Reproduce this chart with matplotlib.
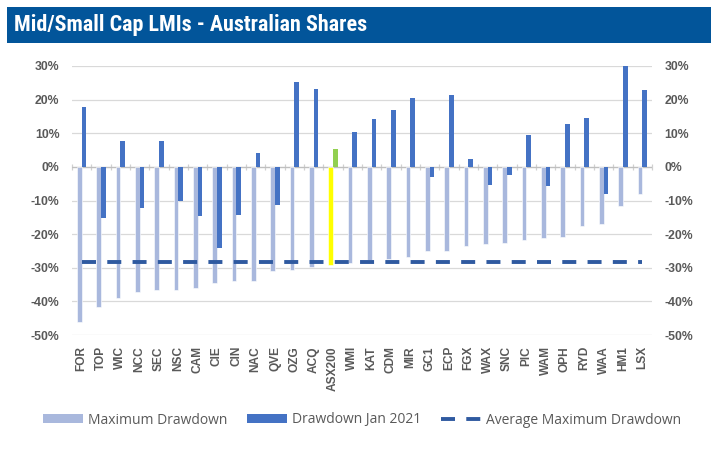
import matplotlib
matplotlib.use("Agg")
import matplotlib.pyplot as plt
import numpy as np
from matplotlib.patches import Rectangle, Patch
from matplotlib.lines import Line2D
from matplotlib.ticker import FuncFormatter, FixedLocator
from matplotlib import font_manager

# ---------------- data ----------------
title = "Mid/Small Cap LMIs - Australian Shares"
categories = ["FOR", "TOP", "WIC", "NCC", "SEC", "NSC", "CAM", "CIE", "CIN", "NAC",
              "QVE", "OZG", "ACQ", "ASX200", "WMI", "KAT", "CDM", "MIR", "GC1", "ECP",
              "FGX", "WAX", "SNC", "PIC", "WAM", "OPH", "RYD", "WAA", "HM1", "LSX"]
max_drawdown = [-46.1, -41.7, -39.0, -37.1, -36.7, -36.6, -35.9, -34.4, -33.9, -33.8,
                -31.0, -30.6, -29.8, -29.2, -28.5, -27.6, -27.4, -26.8, -25.0, -24.9,
                -23.4, -22.8, -22.6, -21.6, -21.3, -20.8, -17.7, -17.1, -11.5, -8.0]
drawdown_jan2021 = [17.9, -15.1, 7.7, -12.1, 7.6, -10.1, -14.6, -24.0, -14.3, 4.1,
                    -11.2, 25.1, 23.1, 5.3, 10.4, 14.1, 17.0, 20.4, -3.1, 21.3,
                    2.2, -5.4, -2.3, 9.4, -5.7, 12.7, 14.5, -8.0, 30.0, 22.9]
avg_max_drawdown = -28.2
benchmark = "ASX200"
y_ticks = [30, 20, 10, 0, -10, -20, -30, -40, -50]
legend_labels = ["Maximum Drawdown", "Drawdown Jan 2021", "Average Maximum Drawdown"]

# ---------------- style ----------------
LIGHT = "#A9B8DD"
DARK = "#4472C4"
BENCH_LIGHT = "#FFFF00"
BENCH_DARK = "#92D050"
AVG = "#2F5AA0"
GRID = "#D9D9D9"
TXT = "#595959"
BANNER = "#02559A"
FONT = ["Liberation Sans", "DejaVu Sans"]

available = {f.name for f in font_manager.fontManager.ttflist}
title_family = [f for f in ["Liberation Sans Narrow", "Roboto Condensed", "Open Sans Condensed",
                            "DejaVu Sans Condensed", "Roboto", "DejaVu Sans"] if f in available]

W, H = 711, 450
fig = plt.figure(figsize=(W / 100, H / 100), dpi=100)
fig.patch.set_facecolor("white")

# banner
fig.patches.append(Rectangle((7 / W, 1 - 43 / H), (W - 7) / W, 36 / H,
                             transform=fig.transFigure, facecolor=BANNER,
                             edgecolor="none", zorder=0))
fig.text(14 / W, 1 - 25.5 / H, title, color="white", fontsize=15.8, fontweight="bold",
         family=title_family, fontstretch="condensed",
         va="center", ha="left")

ax = fig.add_axes([72 / W, 1 - 335 / H, 580 / W, 269 / H])
x = np.arange(len(categories))
bw = 0.24
light_colors = [BENCH_LIGHT if c == benchmark else LIGHT for c in categories]
dark_colors = [BENCH_DARK if c == benchmark else DARK for c in categories]

ax.bar(x - bw / 2, max_drawdown, width=bw, color=light_colors,
       edgecolor="white", linewidth=0.4, zorder=3)
ax.bar(x + bw / 2, drawdown_jan2021, width=bw, color=dark_colors,
       edgecolor="none", zorder=3)
ax.plot(x, [avg_max_drawdown] * len(categories), color=AVG, linewidth=2.8,
        dashes=(3.6, 2.9), dash_capstyle="butt", zorder=4)

ax.set_xlim(-0.5, len(categories) - 0.5)
ax.set_ylim(min(y_ticks), max(y_ticks))
ax.yaxis.set_major_locator(FixedLocator(y_ticks))
pct = FuncFormatter(lambda v, p: f"{v:.0f}%")
ax.yaxis.set_major_formatter(pct)
ax.grid(axis="y", color=GRID, linewidth=0.9, zorder=0)
ax.set_axisbelow(True)
for s in ax.spines.values():
    s.set_visible(False)
ax.tick_params(axis="y", length=0, pad=9, labelsize=8.8, labelcolor=TXT)
for lab in ax.get_yticklabels():
    lab.set_fontweight("bold"); lab.set_family(FONT)

ax.set_xticks(x)
ax.set_xticklabels(categories, rotation=90, fontsize=8.6, fontweight="bold",
                   color=TXT, family=FONT)
ax.tick_params(axis="x", length=0, pad=8)

# zero axis line with category-boundary tick marks
ax.axhline(0, color="#BFBFBF", linewidth=0.9, zorder=2)
y0 = (0 - min(y_ticks)) / (max(y_ticks) - min(y_ticks))
sec = ax.secondary_xaxis(y0)
sec.set_xticks(np.arange(len(categories) + 1) - 0.5)
sec.tick_params(axis="x", direction="inout", length=5, width=0.9, color="#D0D0D0",
                labelbottom=False, labeltop=False)
sec.spines["bottom"].set_visible(False)
sec.spines["top"].set_visible(False)

# right axis
ax2 = ax.twinx()
ax2.set_ylim(ax.get_ylim())
ax2.yaxis.set_major_locator(FixedLocator(y_ticks))
ax2.yaxis.set_major_formatter(pct)
for s in ax2.spines.values():
    s.set_visible(False)
ax2.tick_params(axis="y", length=0, pad=9, labelsize=8.8, labelcolor=TXT)
for lab in ax2.get_yticklabels():
    lab.set_fontweight("bold"); lab.set_family(FONT)

# legend
handles = [Patch(facecolor=LIGHT, edgecolor="none"),
           Patch(facecolor=DARK, edgecolor="none"),
           Line2D([0], [0], color=AVG, linewidth=2.8, dashes=(3.6, 2.9))]
leg = fig.legend(handles, legend_labels, loc="center", bbox_to_anchor=(362 / W, 1 - 420 / H),
                 ncol=3, frameon=False, handlelength=2.9, handleheight=0.6,
                 handletextpad=0.35, columnspacing=1.4,
                 prop={"family": ["Open Sans", "DejaVu Sans"], "size": 10})
for t in leg.get_texts():
    t.set_color(TXT)

fig.savefig("out.png", dpi=100)
